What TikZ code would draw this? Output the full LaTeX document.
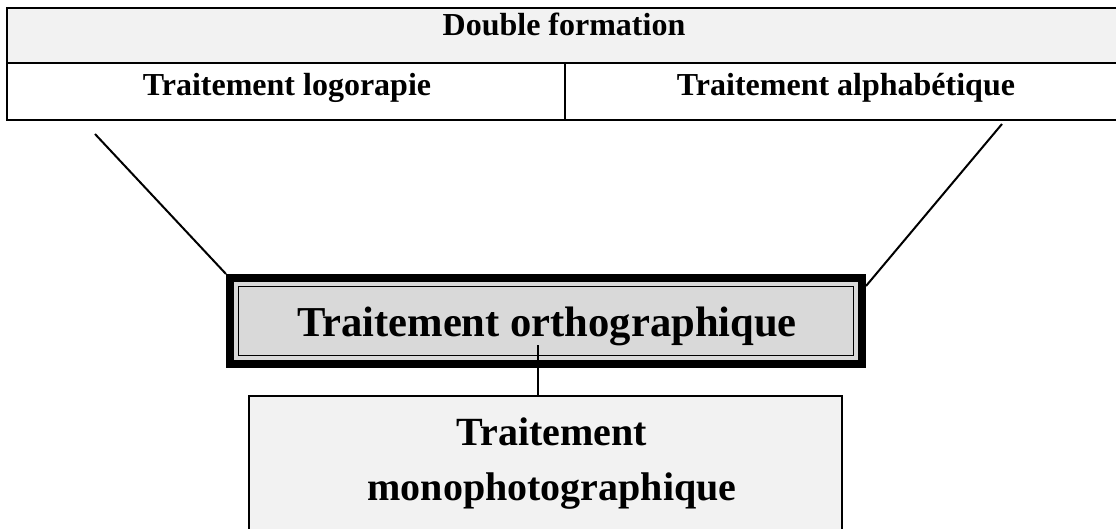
\documentclass[tikz,border=0pt]{standalone}
\usepackage{fontspec}
\setmainfont{Liberation Serif}
\definecolor{hdrgray}{HTML}{F2F2F2}
\definecolor{boxgray}{HTML}{D9D9D9}
\begin{document}
\begin{tikzpicture}[x=1pt,y=-1pt,
  cell/.style={draw=black,line width=2pt,rectangle},
  conn/.style={draw=black,line width=2pt},
  lbl/.style={font=\bfseries\fontsize{32}{38}\selectfont,inner sep=0pt,anchor=base},
  biglbl/.style={font=\bfseries\fontsize{40}{55}\selectfont,inner sep=0pt,anchor=base}]
\useasboundingbox (0,0) rectangle (1116,529);
% table
\path[cell,fill=hdrgray] (7,8) rectangle (1125,63);
\path[cell,fill=white] (7,63) rectangle (1125,120);
\draw[line width=2pt] (565,63) -- (565,120);
\node[lbl] (hdr) at (564,36) {Double formation};
\node[lbl] (logo) at (287,96) {Traitement logorapie};
\node[lbl] (alpha) at (846,96) {Traitement alphabétique};
\coordinate (la) at (95,134);
\coordinate (ra) at (1002,124);
% ortho box
\node[draw=black,line width=8pt,fill=boxgray,minimum width=632pt,minimum height=86pt,inner sep=0pt] (ortho) at (546,321) {};
\draw[line width=1.6pt] (238.5,286.5) rectangle (853.5,355.5);
\node[font=\bfseries\fontsize{42.6}{50}\selectfont,inner sep=0pt,anchor=base] (orthot) at (547,336) {Traitement orthographique};
% bottom box
\path[draw=black,line width=2pt,fill=hdrgray] (249,396) rectangle (842,545);
\coordinate (mono) at (538,396);
\node[biglbl] (monot1) at (552,445) {Traitement};
\node[biglbl] (monot2) at (552,500) {monophotographique};
% connectors
\draw[conn] (la) -- (ortho.north west);
\draw[conn] (ra) -- ([yshift=-12pt]ortho.north east);
\coordinate (ostem) at (538,345);
\draw[conn] (ostem) -- (mono);
\end{tikzpicture}
\end{document}
